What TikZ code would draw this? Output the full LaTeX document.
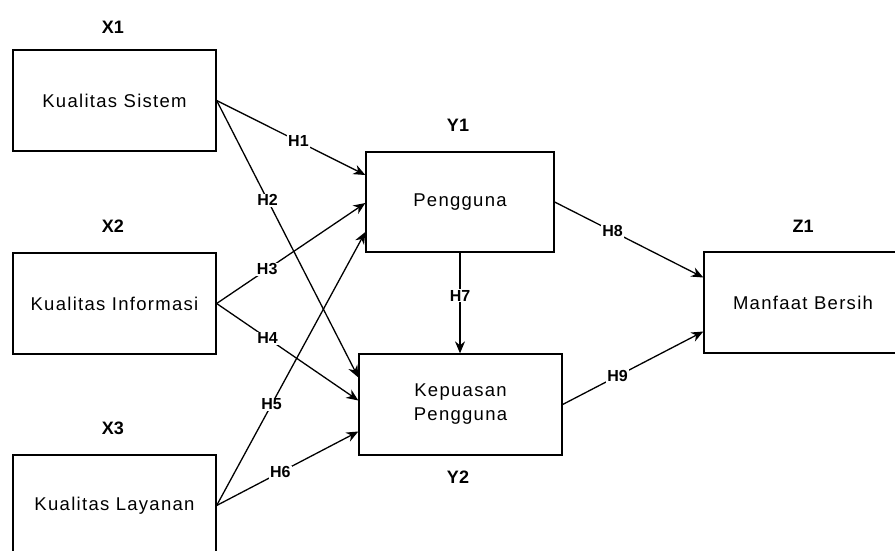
\documentclass[tikz,border=0pt]{standalone}
\usepackage{fontspec}
\setmainfont{Liberation Sans}
\newfontfamily\boxfont{Liberation Sans}[LetterSpace=7]
\usetikzlibrary{arrows.meta}

\begin{document}
\begin{tikzpicture}[x=1pt, y=-1pt, line width=1.3pt,
  box/.style={draw, minimum width=203pt, minimum height=101pt,
    align=center, font=\boxfont\fontsize{18.5}{24}\selectfont},
  tag/.style={font=\bfseries\fontsize{18}{20}\selectfont},
  hyp/.style={fill=white, inner sep=1pt, font=\bfseries\fontsize{16}{18}\selectfont},
  >={Stealth[length=12pt, width=10pt]}]
  \useasboundingbox (0,0) rectangle (895,551);

  % constructs
  \node[box] (x1) at (114.5, 100.5) {Kualitas Sistem};
  \node[box] (x2) at (114.5, 303.5) {Kualitas Informasi};
  \node[box] (x3) at (114.5, 505.5) {Kualitas Layanan};
  \node[box, minimum width=188pt, minimum height=100pt] (y1) at (460, 202) {Pengguna};
  \node[box] (y2) at (460.5, 404.5) {Kepuasan\\Pengguna};
  \node[box, minimum width=198pt] (z1) at (803, 302.5) {Manfaat Bersih};

  \node[tag] (tx1) at (113, 27)  {X1};
  \node[tag] (tx2) at (113, 226) {X2};
  \node[tag] (tx3) at (113, 428) {X3};
  \node[tag] (ty1) at (458, 125) {Y1};
  \node[tag] (ty2) at (458, 477) {Y2};
  \node[tag] (tz1) at (803, 226) {Z1};

  % hypotheses
  \draw (x1.east) edge[->] node[hyp, pos=0.55] {H1} ([yshift=27pt]y1.west);
  \draw (x1.east) edge[->] node[hyp, pos=0.36] {H2} ([yshift=27pt]y2.west);

  \draw (x2.east) edge[->] node[hyp, pos=0.34] {H3} ([yshift=-1pt]y1.west);
  \draw (x2.east) edge[->] node[hyp, pos=0.36] {H4} ([yshift=4pt]y2.west);

  \draw (x3.east) edge[->] node[hyp, pos=0.37] {H5} ([yshift=-30pt]y1.west);
  \draw (x3.east) edge[->] node[hyp, pos=0.45] {H6} ([yshift=-27pt]y2.west);

  \draw (y1.south) edge[->] node[hyp, pos=0.43] {H7} (y1.south |- y2.north);

  \draw (y1.east) edge[->] node[hyp, pos=0.39] {H8} ([yshift=25pt]z1.west);
  \draw (y2.east) edge[->] node[hyp, pos=0.39] {H9} ([yshift=-29pt]z1.west);
\end{tikzpicture}
\end{document}
